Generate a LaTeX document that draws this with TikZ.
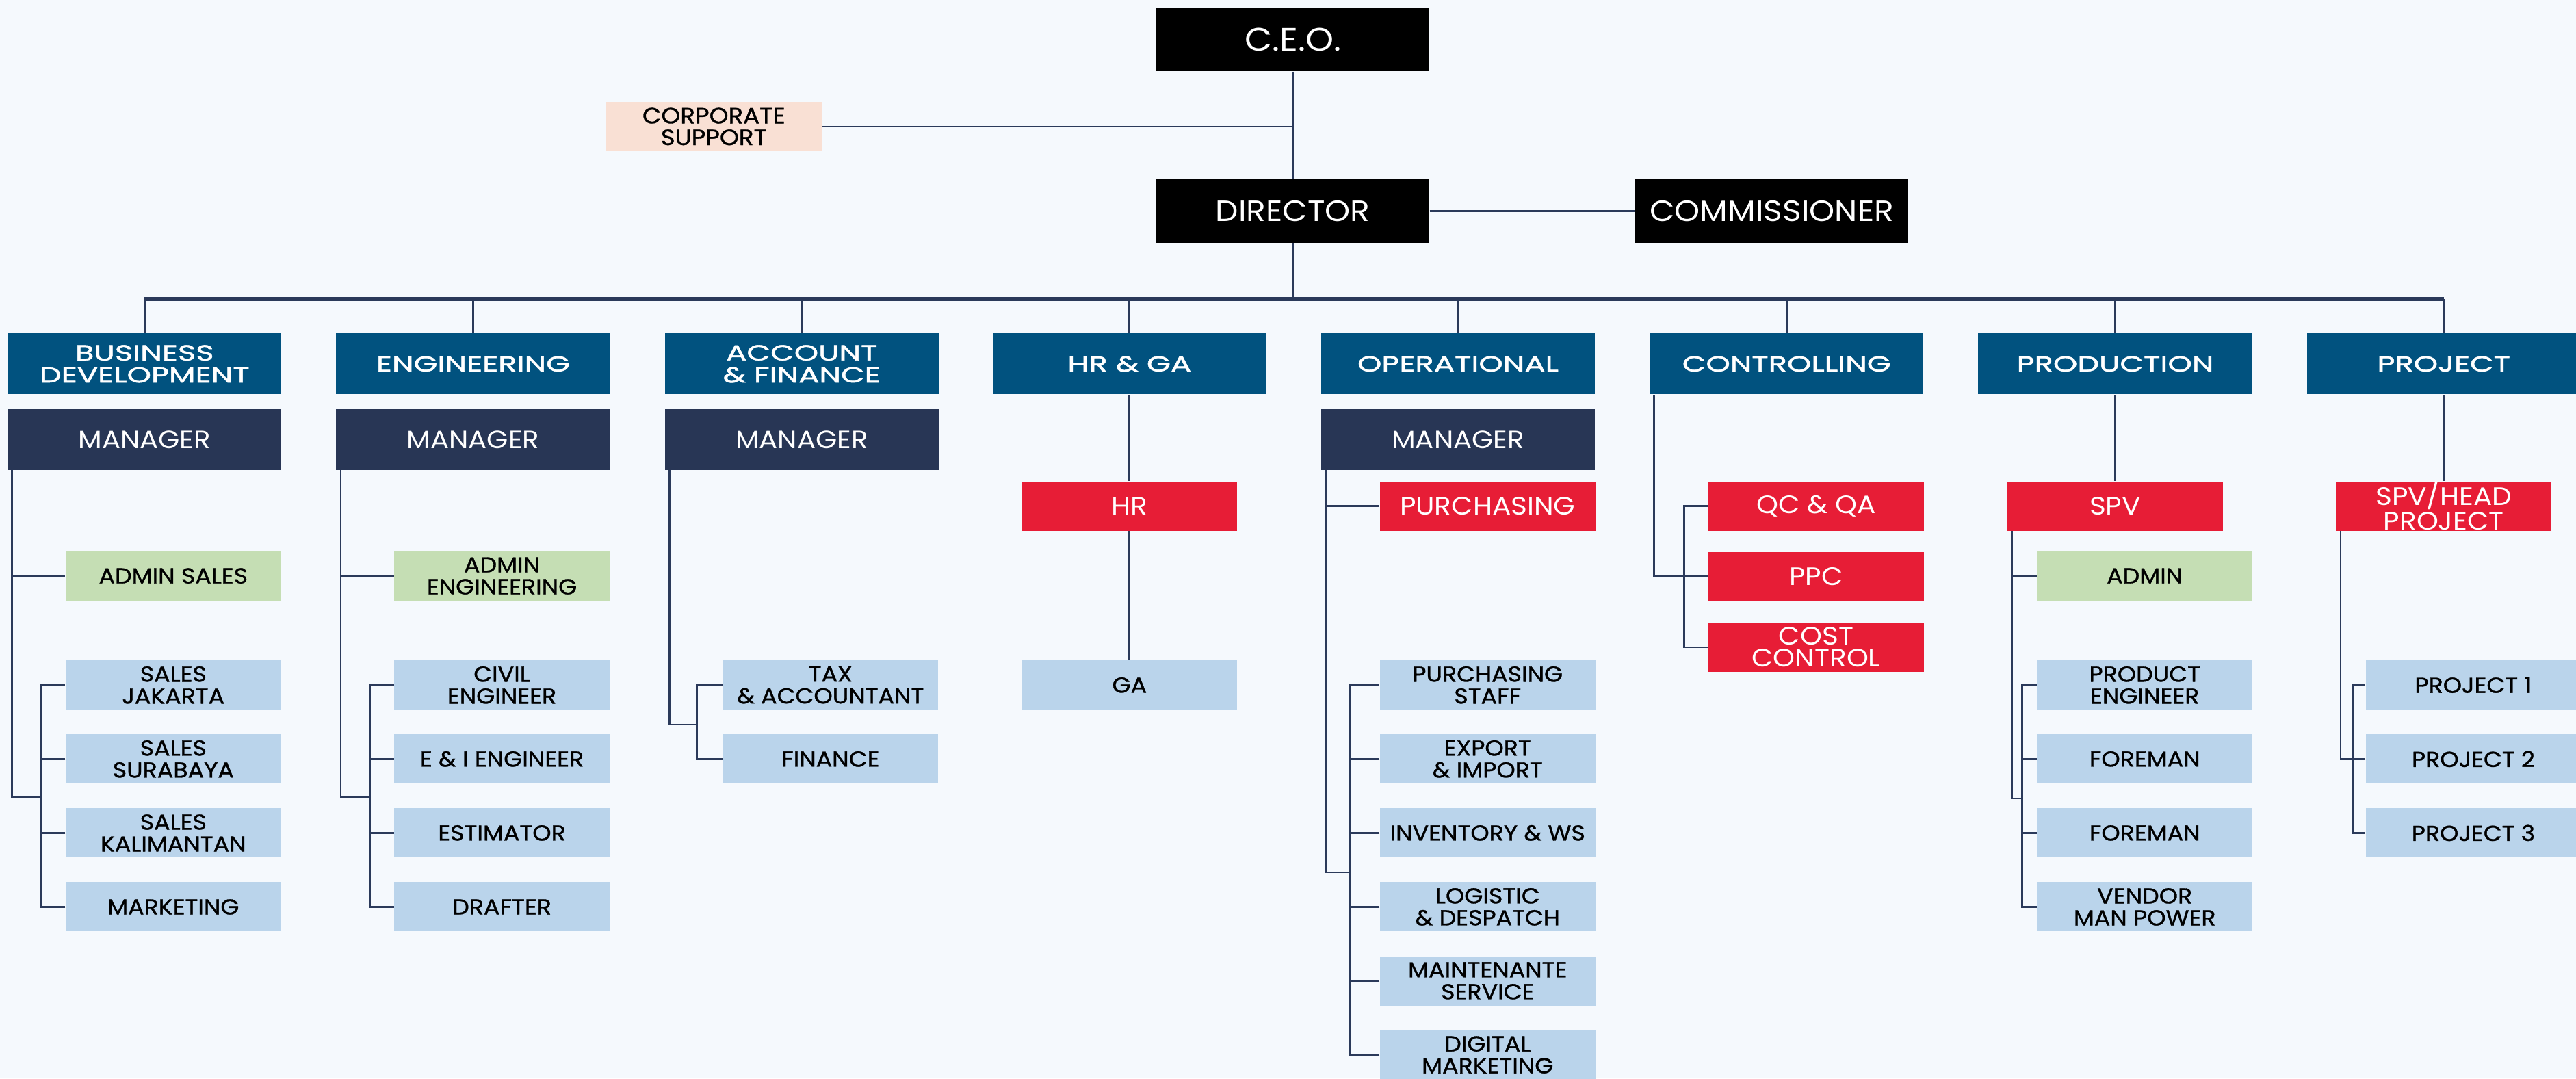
\documentclass[tikz,border=0pt]{standalone}
\usepackage{fontspec}
\setmainfont{Poppins}[FakeStretch=1.1]
\newfontfamily\hdrfont[FakeStretch=1.42,FakeBold=1.6]{Poppins}
\newfontfamily\medfont[FakeStretch=1.1,FakeBold=1.0]{Poppins}
\usetikzlibrary{calc}
\definecolor{bgc}{HTML}{F5F9FD}
\definecolor{hdrblue}{HTML}{01527F}
\definecolor{mgrc}{HTML}{283655}
\definecolor{redc}{HTML}{E71D36}
\definecolor{lblue}{HTML}{BAD4EB}
\definecolor{lgreen}{HTML}{C5DEB4}
\definecolor{peach}{HTML}{F9E0D4}
\definecolor{linec}{HTML}{2B3A5A}
\begin{document}
\begin{tikzpicture}[x=0.024cm,y=-0.024cm,
  nbase/.style={rectangle, inner sep=0pt, align=center},
  topbox/.style={nbase, fill=black, text=white, minimum width=3.984cm, minimum height=0.924cm},
  hdrbox/.style={nbase, fill=hdrblue, text=white, minimum width=4.0cm, minimum height=0.888cm, font=\hdrfont\fontsize{9}{9.2}\selectfont},
  mgrbox/.style={nbase, fill=mgrc, text=white, minimum width=4.0cm, minimum height=0.888cm, font=\fontsize{10.4}{10}\selectfont},
  redbox/.style={nbase, fill=redc, text=white, minimum width=3.144cm, minimum height=0.72cm, font=\fontsize{10.5}{9.1}\selectfont},
  bluebox/.style={nbase, fill=lblue, text=black, minimum width=3.144cm, minimum height=0.72cm, font=\medfont\fontsize{9}{9.1}\selectfont},
  greenbox/.style={bluebox, fill=lgreen},
  peachbox/.style={bluebox, fill=peach, font=\medfont\fontsize{9.2}{9}\selectfont},
  conn/.style={draw=linec, line width=0.8pt},
  busline/.style={draw=linec, line width=1.6pt},
]
\path[use as bounding box, fill=bgc] (0,0) rectangle (1568,656.4);

% top level
\node[topbox, font=\fontsize{13.5}{14}\selectfont] (ceo) at (787,24) {C.E.O.};
\node[peachbox] (corp) at (434.5,77) {CORPORATE\\SUPPORT};
\node[topbox, font=\fontsize{12.2}{12}\selectfont] (dir) at (787,128.5) {DIRECTOR};
\node[topbox, font=\fontsize{12.2}{12}\selectfont] (comm) at (1078.5,128.5) {COMMISSIONER};

% departments
\node[hdrbox] (h1) at (88,221.5) {BUSINESS\\DEVELOPMENT};
\node[hdrbox] (h2) at (288,221.5) {ENGINEERING};
\node[hdrbox] (h3) at (488,221.5) {ACCOUNT\\\& FINANCE};
\node[hdrbox] (h4) at (687.5,221.5) {HR \& GA};
\node[hdrbox] (h5) at (887.5,221.5) {OPERATIONAL};
\node[hdrbox] (h6) at (1087.5,221.5) {CONTROLLING};
\node[hdrbox] (h7) at (1287.5,221.5) {PRODUCTION};
\node[hdrbox] (h8) at (1487.5,221.5) {PROJECT};

% managers
\node[mgrbox] (m1) at (88,267.5) {MANAGER};
\node[mgrbox] (m2) at (288,267.5) {MANAGER};
\node[mgrbox] (m3) at (488,267.5) {MANAGER};
\node[mgrbox] (m5) at (887.5,267.5) {MANAGER};

% column 1
\node[greenbox] (as) at (105.5,350.5) {ADMIN SALES};
\node[bluebox] (sj) at (105.5,417) {SALES\\JAKARTA};
\node[bluebox] (ss) at (105.5,462) {SALES\\SURABAYA};
\node[bluebox] (sk) at (105.5,507) {SALES\\KALIMANTAN};
\node[bluebox] (mk) at (105.5,552) {MARKETING};

% column 2
\node[greenbox] (ae) at (305.5,350.5) {ADMIN\\ENGINEERING};
\node[bluebox] (ce) at (305.5,417) {CIVIL\\ENGINEER};
\node[bluebox] (ee) at (305.5,462) {E \& I ENGINEER};
\node[bluebox] (es) at (305.5,507) {ESTIMATOR};
\node[bluebox] (df) at (305.5,552) {DRAFTER};

% column 3
\node[bluebox] (tx) at (505.5,417) {TAX\\\& ACCOUNTANT};
\node[bluebox] (fi) at (505.5,462) {FINANCE};

% column 4
\node[redbox] (hr) at (687.5,308) {HR};
\node[bluebox] (ga) at (687.5,417) {GA};

% column 5
\node[redbox] (pur) at (905.5,308) {PURCHASING};
\node[bluebox] (ps) at (905.5,417) {PURCHASING\\STAFF};
\node[bluebox] (ei) at (905.5,462) {EXPORT\\\& IMPORT};
\node[bluebox] (iw) at (905.5,507) {INVENTORY \& WS};
\node[bluebox] (ld) at (905.5,552) {LOGISTIC\\\& DESPATCH};
\node[bluebox] (ms) at (905.5,597) {MAINTENANTE\\SERVICE};
\node[bluebox] (dm) at (905.5,642) {DIGITAL\\MARKETING};

% column 6
\node[redbox] (qc) at (1105.5,308) {QC \& QA};
\node[redbox] (ppc) at (1105.5,351) {PPC};
\node[redbox] (cc) at (1105.5,394) {COST\\CONTROL};

% column 7
\node[redbox] (spv) at (1287.5,308) {SPV};
\node[greenbox] (adm) at (1305.5,350.5) {ADMIN};
\node[bluebox] (pe) at (1305.5,417) {PRODUCT\\ENGINEER};
\node[bluebox] (f1) at (1305.5,462) {FOREMAN};
\node[bluebox] (f2) at (1305.5,507) {FOREMAN};
\node[bluebox] (vm) at (1305.5,552) {VENDOR\\MAN POWER};

% column 8
\node[redbox] (sph) at (1487.5,308) {SPV/HEAD\\PROJECT};
\node[bluebox] (p1) at (1505.5,417) {PROJECT 1};
\node[bluebox] (p2) at (1505.5,462) {PROJECT 2};
\node[bluebox] (p3) at (1505.5,507) {PROJECT 3};

% top connectors
\draw[conn] (ceo) -- (dir);
\draw[conn] (corp.east) -- (corp.east -| ceo.south);
\draw[conn] (dir) -- (comm);
\coordinate (bus) at (787,182);
\draw[conn] (dir.south) -- (bus);
\draw[busline] (h1.north |- bus) -- (h8.north |- bus);
\foreach \i in {1,...,8} \draw[conn] (h\i.north |- bus) -- (h\i.north);

% column 1 connectors
\coordinate (t1) at ([xshift=0.072cm]m1.south west);
\coordinate (j1) at (25,485);
\draw[conn] (t1) |- (as.west);
\draw[conn] (t1) |- (j1);
\draw[conn] (sj.west) -| (j1);
\draw[conn] (mk.west) -| (j1);
\draw[conn] (ss.west) -- (ss.west -| j1);
\draw[conn] (sk.west) -- (sk.west -| j1);

% column 2 connectors
\coordinate (t2) at ([xshift=0.072cm]m2.south west);
\coordinate (j2) at (225,485);
\draw[conn] (t2) |- (ae.west);
\draw[conn] (t2) |- (j2);
\draw[conn] (ce.west) -| (j2);
\draw[conn] (df.west) -| (j2);
\draw[conn] (ee.west) -- (ee.west -| j2);
\draw[conn] (es.west) -- (es.west -| j2);

% column 3 connectors
\coordinate (t3) at ([xshift=0.072cm]m3.south west);
\coordinate (j3) at (424,441);
\draw[conn] (t3) |- (j3);
\draw[conn] (tx.west) -| (j3);
\draw[conn] (fi.west) -| (j3);

% column 4 connectors
\draw[conn] (h4) -- (hr);
\draw[conn] (hr) -- (ga);

% column 5 connectors
\coordinate (t5) at ([xshift=0.072cm]m5.south west);
\coordinate (j5) at (822,531);
\draw[conn] (t5) |- (pur.west);
\draw[conn] (t5) |- (j5);
\draw[conn] (ps.west) -| (j5);
\draw[conn] (dm.west) -| (j5);
\foreach \n in {ei,iw,ld,ms} \draw[conn] (\n.west) -- (\n.west -| j5);

% column 6 connectors
\coordinate (t6) at ([xshift=0.072cm]h6.south west);
\coordinate (j6) at (1025,351);
\draw[conn] (t6) |- (ppc.west);
\draw[conn] (qc.west) -| (j6);
\draw[conn] (cc.west) -| (j6);

% column 7 connectors
\draw[conn] (h7) -- (spv);
\coordinate (t7) at ([xshift=0.072cm]spv.south west);
\coordinate (j7) at (1231,486);
\draw[conn] (t7) |- (adm.west);
\draw[conn] (t7) |- (j7);
\draw[conn] (pe.west) -| (j7);
\draw[conn] (vm.west) -| (j7);
\draw[conn] (f1.west) -- (f1.west -| j7);
\draw[conn] (f2.west) -- (f2.west -| j7);

% column 8 connectors
\draw[conn] (h8) -- (sph);
\coordinate (t8) at ([xshift=0.072cm]sph.south west);
\coordinate (j8) at (1432,462);
\draw[conn] (t8) |- (j8);
\draw[conn] (p1.west) -| (j8);
\draw[conn] (p3.west) -| (j8);
\draw[conn] (p2.west) -- (j8);
\end{tikzpicture}
\end{document}
